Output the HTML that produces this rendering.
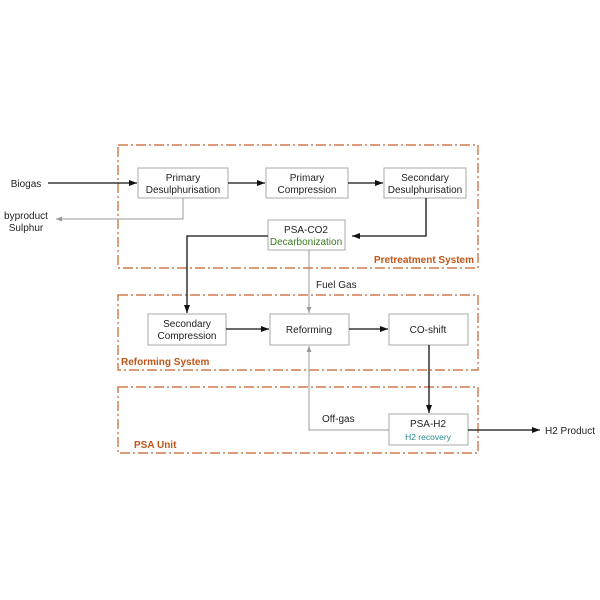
<!DOCTYPE html>
<html><head><style>body{margin:0;background:#fff}svg{display:block}text{font-family:"Liberation Sans",sans-serif;font-size:10px;fill:#222}</style></head><body>
<svg width="600" height="600" viewBox="0 0 600 600">
<defs>
<marker id="a" markerWidth="8" markerHeight="6" refX="8" refY="3" orient="auto" markerUnits="userSpaceOnUse"><path d="M0,0L8,3L0,6z" fill="#111"/></marker>
<marker id="g" markerWidth="6" markerHeight="5" refX="6" refY="2.5" orient="auto" markerUnits="userSpaceOnUse"><path d="M0,0L6,2.5L0,5z" fill="#999"/></marker>
</defs>
<g fill="none" stroke="#c8612a" stroke-width="1.2" stroke-dasharray="10,3,2,3">
<rect x="118" y="145" width="360" height="123"/>
<rect x="118" y="295" width="360" height="75"/>
<rect x="118" y="387" width="360" height="66"/>
</g>
<g font-weight="bold" fill="#c0561a">
<text x="474" y="263" text-anchor="end" style="fill:#c0561a;font-weight:bold">Pretreatment System</text>
<text x="121" y="365" style="fill:#c0561a;font-weight:bold">Reforming System</text>
<text x="134" y="448" style="fill:#c0561a;font-weight:bold">PSA Unit</text>
</g>
<g fill="#fff" stroke="#aaa" stroke-width="1">
<rect x="138" y="168" width="90" height="30"/>
<rect x="266" y="168" width="82" height="30"/>
<rect x="384" y="168" width="82" height="30"/>
<rect x="268" y="220" width="77" height="30"/>
<rect x="148" y="314" width="78" height="31"/>
<rect x="270" y="314" width="79" height="31"/>
<rect x="389" y="314" width="79" height="31"/>
<rect x="389" y="414" width="79" height="31"/>
</g>
<g fill="none" stroke="#111" stroke-width="1.3">
<path d="M48,183H137" marker-end="url(#a)"/>
<path d="M228,183H265" marker-end="url(#a)"/>
<path d="M348,183H383" marker-end="url(#a)"/>
<path d="M426,198V236H352" marker-end="url(#a)"/>
<path d="M268,236H187V313" marker-end="url(#a)"/>
<path d="M226,329H269" marker-end="url(#a)"/>
<path d="M349,329H388" marker-end="url(#a)"/>
<path d="M429,345V413" marker-end="url(#a)"/>
<path d="M468,430H540" marker-end="url(#a)"/>
</g>
<g fill="none" stroke="#999" stroke-width="1">
<path d="M183,198V219H56" marker-end="url(#g)"/>
<path d="M309,250V313" marker-end="url(#g)"/>
<path d="M389,430H309V346" marker-end="url(#g)"/>
</g>
<g text-anchor="middle">
<text x="183" y="181">Primary</text><text x="183" y="193">Desulphurisation</text>
<text x="307" y="181">Primary</text><text x="307" y="193">Compression</text>
<text x="425" y="181">Secondary</text><text x="425" y="193">Desulphurisation</text>
<text x="306" y="233">PSA-CO2</text><text x="306" y="245" style="fill:#3a7a22">Decarbonization</text>
<text x="187" y="327">Secondary</text><text x="187" y="339">Compression</text>
<text x="309" y="333">Reforming</text>
<text x="428" y="333">CO-shift</text>
<text x="428" y="427">PSA-H2</text><text x="428" y="440" style="fill:#2a8a8a;font-size:8.5px">H2 recovery</text>
<text x="26" y="187">Biogas</text>
<text x="26" y="219">byproduct</text><text x="26" y="231">Sulphur</text>
</g>
<text x="316" y="288">Fuel Gas</text>
<text x="322" y="422">Off-gas</text>
<text x="545" y="434">H2 Product</text>
</svg>
</body></html>
